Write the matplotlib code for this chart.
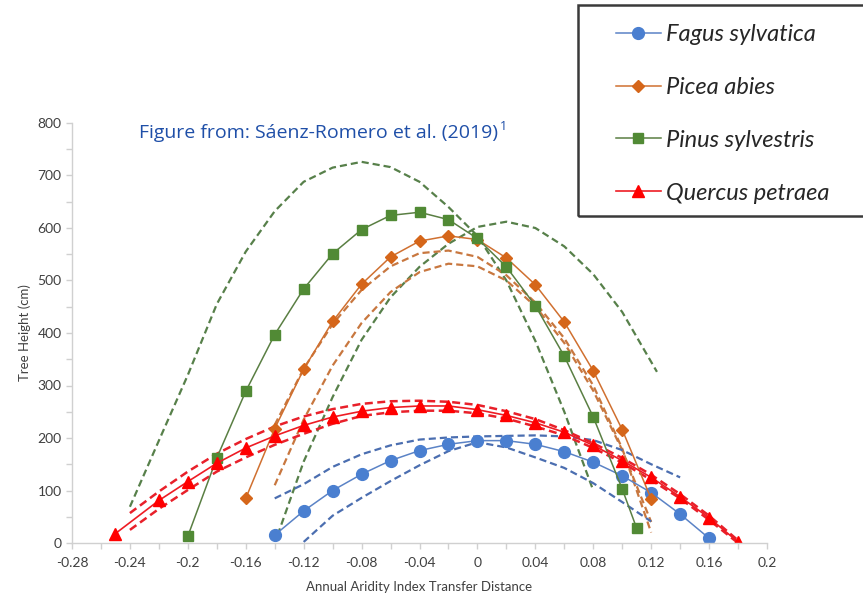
import matplotlib
matplotlib.use("Agg")
import matplotlib.pyplot as plt
from matplotlib.patches import Rectangle
from matplotlib.ticker import MultipleLocator, FuncFormatter

# ---- data ----
fagus_x = [-0.14, -0.12, -0.10, -0.08, -0.06, -0.04, -0.02, 0.0, 0.02, 0.04, 0.06, 0.08, 0.10, 0.12, 0.14, 0.16]
fagus_y = [15, 61, 100, 131, 157, 176, 188, 195, 195, 188, 174, 154, 128, 96, 55, 9]
fagus_hi_x = [-0.14, -0.12, -0.10, -0.08, -0.06, -0.04, -0.02, 0.0, 0.02, 0.04, 0.06, 0.08, 0.10, 0.12, 0.14]
fagus_hi_y = [85, 112, 145, 169, 186, 197, 201, 203, 204, 205, 203, 196, 177, 150, 125]
fagus_lo_x = [-0.12, -0.10, -0.08, -0.06, -0.04, -0.02, 0.0, 0.02, 0.04, 0.06, 0.08, 0.10, 0.12]
fagus_lo_y = [2, 52, 86, 118, 148, 175, 192, 182, 163, 143, 114, 78, 41]

picea_x = [-0.16, -0.14, -0.12, -0.10, -0.08, -0.06, -0.04, -0.02, 0.0, 0.02, 0.04, 0.06, 0.08, 0.10, 0.12]
picea_y = [85, 218, 331, 422, 493, 545, 575, 585, 578, 543, 492, 421, 328, 216, 84]
picea_hi_x = [-0.14, -0.12, -0.10, -0.08, -0.06, -0.04, -0.02, 0.0, 0.02, 0.04, 0.06, 0.08, 0.10, 0.12]
picea_hi_y = [225, 332, 417, 482, 527, 552, 557, 545, 510, 458, 390, 300, 180, 20]
picea_lo_x = [-0.14, -0.12, -0.10, -0.08, -0.06, -0.04, -0.02, 0.0, 0.02, 0.04, 0.06, 0.08, 0.10, 0.12]
picea_lo_y = [110, 235, 338, 419, 478, 516, 532, 527, 500, 451, 381, 290, 177, 40]

pinus_x = [-0.20, -0.18, -0.16, -0.14, -0.12, -0.10, -0.08, -0.06, -0.04, -0.02, 0.0, 0.02, 0.04, 0.06, 0.08, 0.10, 0.11]
pinus_y = [13, 162, 289, 397, 484, 551, 597, 624, 630, 616, 580, 526, 452, 356, 240, 103, 28]
pinus_a_x = [-0.24, -0.22, -0.20, -0.18, -0.16, -0.14, -0.12, -0.10, -0.08, -0.06, -0.04, -0.02, 0.0, 0.02, 0.04, 0.06, 0.08]
pinus_a_y = [69, 195, 320, 455, 555, 632, 688, 715, 726, 716, 688, 640, 585, 500, 385, 250, 100]
pinus_b_x = [-0.138, -0.12, -0.10, -0.08, -0.06, -0.04, -0.02, 0.0, 0.02, 0.04, 0.06, 0.08, 0.10, 0.124]
pinus_b_y = [15, 155, 278, 387, 468, 526, 570, 602, 612, 600, 565, 512, 440, 326]

quercus_x = [-0.25, -0.22, -0.20, -0.18, -0.16, -0.14, -0.12, -0.10, -0.08, -0.06, -0.04, -0.02, 0.0, 0.02, 0.04, 0.06, 0.08, 0.10, 0.12, 0.14, 0.16, 0.18]
quercus_y = [18, 81, 117, 152, 181, 204, 224, 240, 251, 258, 261, 261, 254, 243, 229, 211, 186, 157, 125, 88, 48, 2]
quercus_hi_x = [-0.24, -0.22, -0.20, -0.18, -0.16, -0.14, -0.12, -0.10, -0.08, -0.06, -0.04, -0.02, 0.0, 0.02, 0.04, 0.06, 0.08, 0.10, 0.12, 0.14, 0.16, 0.18]
quercus_hi_y = [57, 98, 136, 170, 198, 222, 241, 255, 265, 270, 271, 269, 263, 251, 236, 215, 190, 162, 130, 93, 52, 5]
quercus_lo_y = [25, 65, 101, 136, 163, 187, 208, 227, 242, 249, 252, 252, 247, 237, 222, 205, 181, 153, 120, 85, 44, 0]

labels = ["Fagus sylvatica", "Picea abies", "Pinus sylvestris", "Quercus petraea"]

plt.rcParams["font.family"] = ["Lato", "DejaVu Sans"]

fig = plt.figure(figsize=(8.63, 5.95), dpi=100)
ax = fig.add_axes([72 / 863, 52 / 595, 695 / 863, 420 / 595])

dash = (0, (3.2, 1.8))

# confidence curves first
ax.plot(pinus_a_x, pinus_a_y, color="#57804a", lw=1.6, ls=dash)
ax.plot(pinus_b_x, pinus_b_y, color="#57804a", lw=1.6, ls=dash)
ax.plot(picea_hi_x, picea_hi_y, color="#c8773f", lw=1.6, ls=dash)
ax.plot(picea_lo_x, picea_lo_y, color="#c8773f", lw=1.6, ls=dash)
ax.plot(fagus_hi_x, fagus_hi_y, color="#4b6eb0", lw=1.6, ls=dash)
ax.plot(fagus_lo_x, fagus_lo_y, color="#4b6eb0", lw=1.6, ls=dash)
ax.plot(quercus_hi_x, quercus_hi_y, color="#e8202a", lw=1.8, ls=dash)
ax.plot(quercus_hi_x, quercus_lo_y, color="#e8202a", lw=1.8, ls=dash)

# observed series
h1, = ax.plot(fagus_x, fagus_y, color="#5b83c6", lw=1.1, marker="o", ms=8.5,
              mfc="#4a7fd0", mec="#4a7fd0")
h2, = ax.plot(picea_x, picea_y, color="#d07030", lw=1.1, marker="D", ms=6.5,
              mfc="#d5661a", mec="#d5661a")
h3, = ax.plot(pinus_x, pinus_y, color="#5a7f43", lw=1.1, marker="s", ms=7.5,
              mfc="#518a35", mec="#518a35")
h4, = ax.plot(quercus_x, quercus_y, color="#ee1c24", lw=1.2, marker="^", ms=8.5,
              mfc="#ff0000", mec="#ff0000")

ax.set_xlim(-0.28, 0.2)
ax.set_ylim(0, 800)
ax.xaxis.set_major_locator(MultipleLocator(0.04))
ax.xaxis.set_minor_locator(MultipleLocator(0.02))
ax.yaxis.set_major_locator(MultipleLocator(100))
ax.yaxis.set_minor_locator(MultipleLocator(50))
ax.xaxis.set_major_formatter(FuncFormatter(lambda v, p: "0" if abs(v) < 1e-9 else ("%.2f" % v).rstrip("0").rstrip(".")))

for s in ["top", "right"]:
    ax.spines[s].set_visible(False)
for s in ["left", "bottom"]:
    ax.spines[s].set_color("#d0d0d0")
    ax.spines[s].set_linewidth(1.0)
ax.tick_params(which="both", color="#d0d0d0", length=4, width=1, labelcolor="#404040", labelsize=10)
ax.tick_params(axis="x", pad=6)

ax.set_xlabel("Annual Aridity Index Transfer Distance", fontsize=9.5, color="#404040", labelpad=9)
ax.set_ylabel("Tree Height (cm)", fontsize=9.5, color="#404040", labelpad=5)

fig.text(139 / 863, 1 - 133 / 595, "Figure from: Sáenz-Romero et al. (2019)",
         fontsize=14, color="#1f4fa8", family=["Open Sans", "DejaVu Sans"], va="center")
fig.text(500 / 863, 1 - 127 / 595, "1", fontsize=9, color="#1f4fa8",
         family=["Open Sans", "DejaVu Sans"], va="center")

# legend box (runs off the right edge in the original)
fig.add_artist(Rectangle((578 / 863, 1 - 216 / 595), 300 / 863, 211 / 595,
                         transform=fig.transFigure, fill=False,
                         ec="#3a3a3a", lw=1.8))
leg = fig.legend([h1, h2, h3, h4], labels, loc="upper left",
                 bbox_to_anchor=(616 / 863, 1 - 24 / 595),
                 frameon=False, handlelength=1.9, handletextpad=0.2,
                 labelspacing=1.35, borderpad=0, borderaxespad=0,
                 prop={"family": "Lato", "style": "italic", "size": 17})
for t in leg.get_texts():
    t.set_color("#262626")

fig.savefig("out.png", dpi=100)
